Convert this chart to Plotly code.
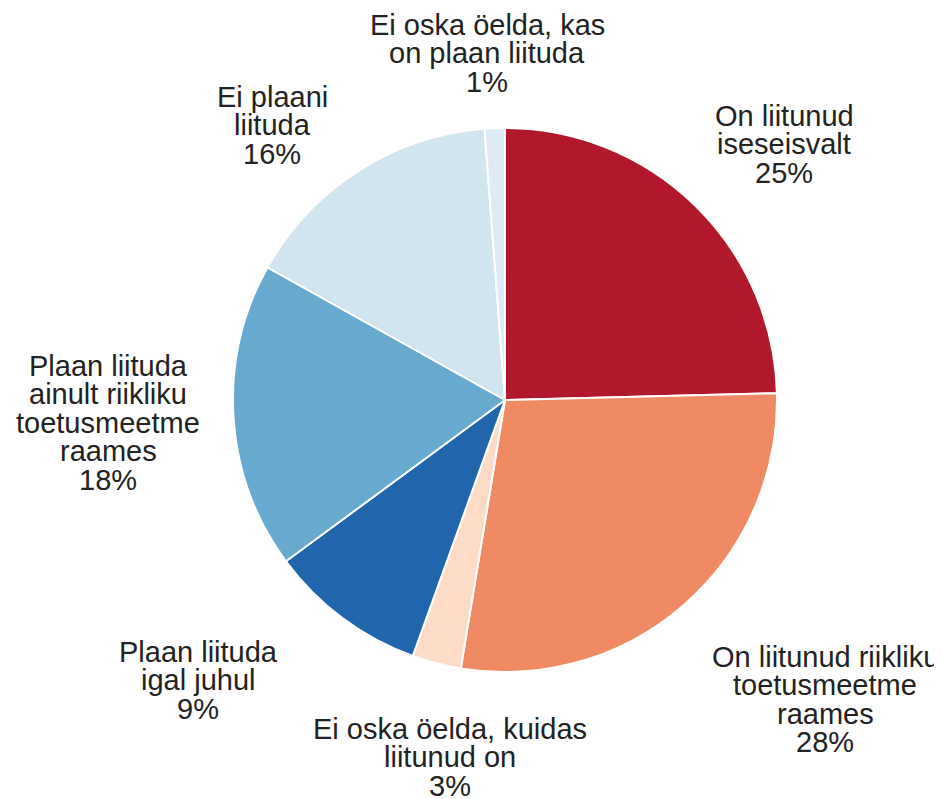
import plotly.graph_objects as go

labels = [
    "On liitunud<br>iseseisvalt",
    "On liitunud riikliku<br>toetusmeetme<br>raames",
    "Ei oska öelda, kuidas<br>liitunud on",
    "Plaan liituda<br>igal juhul",
    "Plaan liituda<br>ainult riikliku<br>toetusmeetme<br>raames",
    "Ei plaani<br>liituda",
    "Ei oska öelda, kas<br>on plaan liituda",
]
values = [24.6, 28.0, 2.9, 9.4, 18.2, 15.7, 1.2]
colors = ["#b2182b", "#ef8a62", "#fddbc7", "#2166ac", "#67a9cf", "#d1e5f0", "#deebf7"]

# label placement (window pixels): centre x, first baseline y
label_pos = [(784, 126), (825, 667), (450, 739), (198, 662), (108, 376), (272, 107), (487, 35)]
LINE_STEP = 28.6
FONT_SIZE = 29
W, H = 942, 799
OFF = 8  # page body margin


def px(x):
    return (x - OFF) / W


def py(y):
    return 1 - (y - OFF) / H


fig = go.Figure(go.Pie(
    labels=labels,
    values=values,
    sort=False,
    direction="clockwise",
    rotation=0,
    marker=dict(colors=colors, line=dict(color="white", width=2)),
    textinfo="none",
    hoverinfo="label+percent",
    showlegend=False,
    automargin=False,
    domain=dict(x=[px(233), px(777)], y=[py(672), py(128)]),
))

total = sum(values)
annotations = []
for lab, v, (cx, by) in zip(labels, values, label_pos):
    lines = lab.split("<br>") + [f"{round(v / total * 100)}%"]
    for i, line in enumerate(lines):
        baseline = by + i * LINE_STEP
        annotations.append(dict(
            text=line, x=px(cx), y=py(baseline - 0.36 * FONT_SIZE),
            xref="paper", yref="paper", xanchor="center", yanchor="middle",
            showarrow=False,
            font=dict(family="Liberation Sans, Arial, sans-serif", size=FONT_SIZE, color="#222222"),
        ))

fig.update_layout(
    width=W, height=H,
    margin=dict(l=0, r=0, t=0, b=0),
    paper_bgcolor="white",
    plot_bgcolor="white",
    annotations=annotations,
)
fig.write_html("out.html")
